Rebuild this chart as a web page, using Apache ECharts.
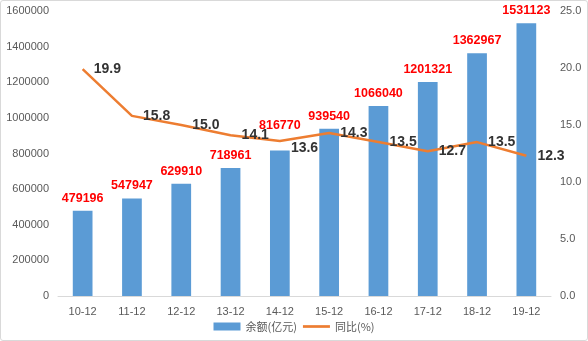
<!DOCTYPE html>
<html><head><meta charset="utf-8">
<script src="https://cdn.jsdelivr.net/npm/echarts@6/dist/echarts.min.js"></script>
<style>html,body{margin:0;padding:0;background:#fff}#c{width:588px;height:341px;box-sizing:border-box;border:1px solid #d9d9d9;border-radius:3px}</style>
</head><body><div id="c"></div>
<script>
const categories = ['10-12','11-12','12-12','13-12','14-12','15-12','16-12','17-12','18-12','19-12'];
const balance = [479196,547947,629910,718961,816770,939540,1066040,1201321,1362967,1531123];
const yoy = [19.9,15.8,15.0,14.1,13.6,14.3,13.5,12.7,13.5,12.3];
const leftTicks = [0,200000,400000,600000,800000,1000000,1200000,1400000,1600000];
const rightTicks = [0,5,10,15,20,25];

const chart = echarts.init(document.getElementById('c'), null, {renderer:'canvas'});
const font = '"Microsoft YaHei","Noto Sans CJK SC",sans-serif';
const numFont = 'Arial, "Liberation Sans", sans-serif';
chart.setOption({
  animation:false,
  textStyle:{fontFamily:font},
  grid:{left:57,right:36,top:10,bottom:44,containLabel:false},
  legend:{bottom:3,left:'center',itemGap:6,itemWidth:27,itemHeight:8,
    textStyle:{color:'#595959',fontSize:11,fontFamily:font},
    data:[{name:'余额(亿元)',icon:'rect'},
          {name:'同比(%)',icon:'path://M0 0H30V3H0Z',itemStyle:{color:'#ED7D31'}}]},
  xAxis:{type:'category',data:categories,
    axisLine:{lineStyle:{color:'#d9d9d9'}},axisTick:{show:false},
    axisLabel:{color:'#595959',fontSize:11,margin:10,fontFamily:numFont}},
  yAxis:[
    {type:'value',min:leftTicks[0],max:leftTicks[leftTicks.length-1],interval:200000,
     splitLine:{show:false},axisLine:{show:false},axisTick:{show:false},
     axisLabel:{color:'#595959',fontSize:11,margin:9,fontFamily:numFont,formatter:v=>String(v)}},
    {type:'value',min:rightTicks[0],max:rightTicks[rightTicks.length-1],interval:5,
     splitLine:{show:false},axisLine:{show:false},axisTick:{show:false},
     axisLabel:{color:'#595959',fontSize:11,margin:9,fontFamily:numFont,formatter:v=>v.toFixed(1)}}
  ],
  series:[
    {name:'余额(亿元)',type:'bar',data:balance.map((v,i)=> i===4?{value:v,label:{distance:18}}:v),barWidth:'40%',
     itemStyle:{color:'#5B9BD5'},
     label:{show:true,position:'top',distance:6,color:'#FF0000',fontWeight:'bold',fontSize:12.5,fontFamily:numFont}},
    {name:'同比(%)',type:'line',yAxisIndex:1,data:yoy.map((v,i)=> i===4?{value:v,label:{offset:[0,7]}}:v),
     showSymbol:true,symbol:'circle',symbolSize:0.1,
     lineStyle:{color:'#ED7D31',width:2.5},itemStyle:{color:'#ED7D31'},
     label:{show:true,position:'right',distance:11,color:'#333',fontWeight:'bold',fontSize:14,
       fontFamily:numFont,formatter:p=>Number(p.value).toFixed(1)}}
  ]
});
</script></body></html>
